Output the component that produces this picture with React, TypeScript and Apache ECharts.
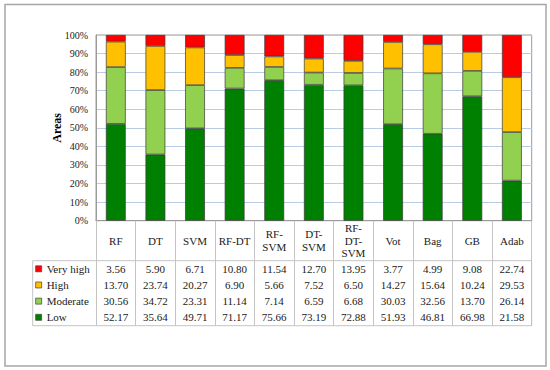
import React, { useEffect, useRef } from "react";
import * as echarts from "echarts";

const categories = ["RF", "DT", "SVM", "RF-DT", "RF-\nSVM", "DT-\nSVM", "RF-\nDT-\nSVM", "Vot", "Bag", "GB", "Adab"];
const veryHigh = [3.56, 5.9, 6.71, 10.8, 11.54, 12.7, 13.95, 3.77, 4.99, 9.08, 22.74];
const high = [13.7, 23.74, 20.27, 6.9, 5.66, 7.52, 6.5, 14.27, 15.64, 10.24, 29.53];
const moderate = [30.56, 34.72, 23.31, 11.14, 7.14, 6.59, 6.68, 30.03, 32.56, 13.7, 26.14];
const low = [52.17, 35.64, 49.71, 71.17, 75.66, 73.19, 72.88, 51.93, 46.81, 66.98, 21.58];
const seriesNames = ["Very high", "High", "Moderate", "Low"];
const seriesColors = ["#FF0000", "#FFC000", "#92D050", "#008000"];
const yTicks = [0, 10, 20, 30, 40, 50, 60, 70, 80, 90, 100];

const FONT = "'Liberation Serif', 'Times New Roman', 'DejaVu Serif', serif";

export default function App() {
  const ref = useRef<HTMLDivElement>(null);
  useEffect(() => {
    document.body.style.margin = "0";
    const chart = echarts.init(ref.current!, null, { renderer: "svg" });
    const gridLeft = 96;
    const gridRight = 18.3;
    const gridTop = 35;
    const gridBottom = 149.3;
    const axisY = 370 - gridBottom;
    const rowData = [veryHigh, high, moderate, low];
    const rowCenters = [268.8, 284.9, 301.1, 317.3];

    const valueAxes = rowData.map((arr, i) => ({
      type: "category",
      gridIndex: 0,
      position: "bottom",
      offset: rowCenters[i] - axisY,
      data: arr.map((v) => v.toFixed(2)),
      axisLine: { show: false },
      axisTick: { show: false },
      splitLine: { show: false },
      axisLabel: {
        interval: 0,
        margin: 0,
        verticalAlign: "middle",
        fontFamily: FONT,
        fontSize: 11,
        color: "#1a1a1a",
      },
    }));

    const dataBySeries: Record<string, number[]> = {
      "Very high": veryHigh,
      High: high,
      Moderate: moderate,
      Low: low,
    };
    const stackOrder = ["Low", "Moderate", "High", "Very high"];

    chart.setOption({
      animation: false,
      grid: {
        left: gridLeft,
        right: gridRight,
        top: gridTop,
        bottom: gridBottom,
        show: true,
        borderColor: "#9a9a9a",
        borderWidth: 1,
        outerBoundsMode: "none",
      },
      legend: {
        orient: "vertical",
        left: 35.3,
        top: 262.8,
        padding: 0,
        data: seriesNames,
        itemWidth: 6,
        itemHeight: 6,
        itemGap: 4.17,
        icon: "rect",
        textStyle: { fontFamily: FONT, fontSize: 11, color: "#1a1a1a", lineHeight: 12 },
        itemStyle: { borderColor: "#404040", borderWidth: 0.7 },
        selectedMode: false,
      },
      xAxis: [
        {
          type: "category",
          data: categories,
          position: "bottom",
          axisLine: { show: true, lineStyle: { color: "#9a9a9a", width: 1 } },
          axisTick: { show: true, length: 105, lineStyle: { color: "#c4c4c4", width: 1 } },
          axisLabel: {
            interval: 0,
            margin: 20,
            verticalAlign: "middle",
            lineHeight: 12.5,
            fontFamily: FONT,
            fontSize: 11,
            color: "#1a1a1a",
          },
        },
        ...valueAxes,
      ],
      yAxis: {
        type: "value",
        min: 0,
        max: 100,
        interval: 10,
        name: "Areas",
        nameLocation: "middle",
        nameRotate: 90,
        nameGap: 33,
        nameMoveOverlap: false,
        nameTextStyle: { fontFamily: FONT, fontSize: 12, fontWeight: "bold", color: "#000" },
        axisLine: { show: true, lineStyle: { color: "#9a9a9a" } },
        axisTick: { show: false },
        axisLabel: {
          formatter: "{value}%",
          margin: 8,
          fontFamily: FONT,
          fontSize: 10,
          color: "#1a1a1a",
          customValues: yTicks,
        },
        splitLine: { show: true, lineStyle: { color: "#b9cce4", width: 1 } },
      },
      series: stackOrder.map((name) => ({
        name,
        type: "bar",
        stack: "total",
        barWidth: "50%",
        data: dataBySeries[name],
        itemStyle: {
          color: seriesColors[seriesNames.indexOf(name)],
          borderColor: "#3a3a3a",
          borderWidth: 0.7,
        },
      })),
      graphic: [
        {
          type: "rect",
          shape: { x: 32.7, y: 260.7, width: 531.7 - 32.7, height: 65 },
          style: { fill: "none", stroke: "#c4c4c4", lineWidth: 1 },
          silent: true,
        },
        {
          type: "rect",
          shape: { x: 5, y: 4.5, width: 541, height: 361.5 },
          style: { fill: "none", stroke: "#a6a6a6", lineWidth: 1.5 },
          silent: true,
        },
      ],
    });
    return () => chart.dispose();
  }, []);
  return (
    <div
      ref={ref}
      style={{ position: "fixed", left: 0, top: 0, width: 550, height: 370, background: "#fff" }}
    />
  );
}
